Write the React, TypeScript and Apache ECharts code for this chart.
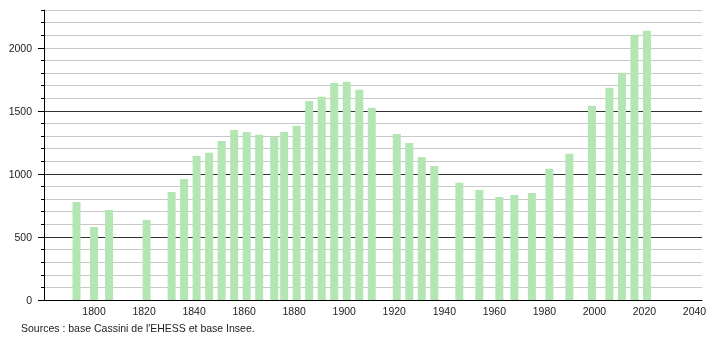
import React, { useEffect, useRef } from "react";
import * as echarts from "echarts";

const years = [1793, 1800, 1806, 1821, 1831, 1836, 1841, 1846, 1851, 1856, 1861, 1866, 1872, 1876, 1881, 1886, 1891, 1896, 1901, 1906, 1911, 1921, 1926, 1931, 1936, 1946, 1954, 1962, 1968, 1975, 1982, 1990, 1999, 2006, 2011, 2016, 2021];
const population = [778, 579, 714, 635, 857, 960, 1143, 1167, 1262, 1349, 1333, 1310, 1294, 1333, 1381, 1579, 1611, 1722, 1730, 1667, 1524, 1317, 1246, 1135, 1063, 929, 873, 817, 833, 849, 1040, 1159, 1540, 1683, 1802, 2103, 2135];
const majorTicks = [0, 500, 1000, 1500, 2000];
const sourceText = "Sources : base Cassini de l'EHESS et base Insee.";

const FONT = "Liberation Sans, Arial, sans-serif";

export default function App() {
  const ref = useRef<HTMLDivElement>(null);
  useEffect(() => {
    if (!ref.current) return;
    const chart = echarts.init(ref.current, undefined, { renderer: "svg" });
    chart.setOption({
      animation: false,
      grid: { left: 44, right: 8, top: 10, bottom: 40 },
      xAxis: {
        type: "value",
        min: 1780,
        max: 2043,
        interval: 20,
        axisLine: { show: true, lineStyle: { color: "#000", width: 1 } },
        axisTick: { show: false },
        splitLine: { show: false },
        axisLabel: {
          margin: 5,
          fontSize: 10.5,
          fontFamily: FONT,
          color: "#222",
          formatter: (v: number) => (v % 20 === 0 && v > 1780 ? String(v) : ""),
        },
      },
      yAxis: [
        {
          type: "value",
          position: "left",
          min: 0,
          max: 2300,
          interval: 100,
          axisLine: { show: true, lineStyle: { color: "#000", width: 1 } },
          axisTick: { show: true, length: 3, lineStyle: { color: "#000" } },
          axisLabel: { show: false },
          splitLine: { show: true, lineStyle: { color: "#c8c8c8", width: 1 } },
        },
        {
          type: "value",
          position: "left",
          min: 0,
          max: 2300,
          interval: 500,
          axisLine: { show: false },
          axisTick: { show: true, length: 6, customValues: majorTicks, lineStyle: { color: "#000" } },
          axisLabel: {
            customValues: majorTicks,
            margin: 12,
            fontSize: 10.5,
            fontFamily: FONT,
            color: "#222",
            formatter: (v: number) => String(v),
          },
          splitLine: { show: true, showMaxLine: false, lineStyle: { color: "#333", width: 1 } },
        },
      ],
      series: [
        {
          type: "bar",
          yAxisIndex: 0,
          barWidth: 8,
          itemStyle: { color: "#b3e6b3" },
          data: years.map((y, i) => [y, population[i]]),
        },
      ],
      graphic: [
        {
          type: "text",
          left: 21,
          top: 322,
          style: { text: sourceText, fontSize: 10.5, fontFamily: FONT, fill: "#222" },
        },
      ],
    });
    return () => chart.dispose();
  }, []);
  return (
    <div
      ref={ref}
      style={{ position: "fixed", left: 0, top: 0, width: 710, height: 340 }}
    />
  );
}
